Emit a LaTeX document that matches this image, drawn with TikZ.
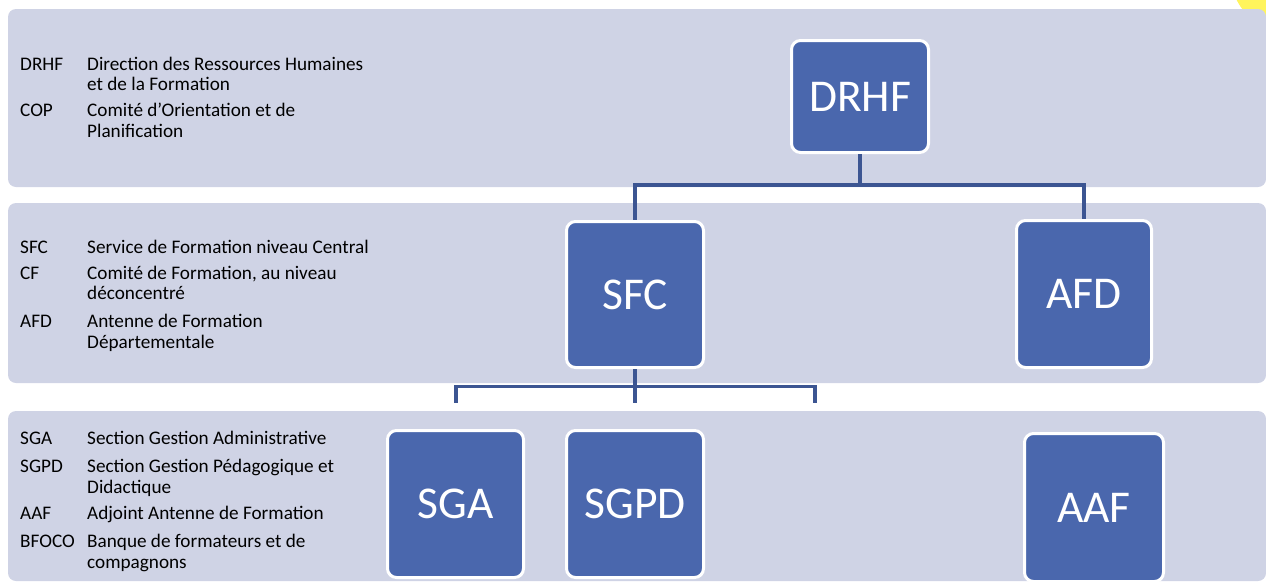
\documentclass[tikz,border=0pt]{standalone}
\usepackage{fontspec}
\setmainfont{Carlito}
\definecolor{bandfill}{HTML}{CFD3E5}
\definecolor{boxblue}{HTML}{4A67AD}
\definecolor{linkblue}{HTML}{3C5592}
\definecolor{sun}{HTML}{FFF45C}

\begin{document}
\begin{tikzpicture}[x=1pt,y=-1pt,
  bandbox/.style={fill=bandfill, rounded corners=8pt},
  unit/.style={draw=white, line width=3pt, fill=boxblue, rounded corners=9pt,
    text=white, font=\fontsize{45.5}{46}\selectfont, inner sep=0pt},
  abbr/.style={anchor=base west, font=\fontsize{19.2}{21}\selectfont, inner sep=0pt},
  link/.style={draw=linkblue, line width=3.4pt}]
\useasboundingbox (0,0) rectangle (1266,584);

% corner mark behind the bands
\fill[sun] (1292,-28) circle (62);

% the three level bands
\fill[bandbox] (8,9) rectangle (1266,187);
\fill[bandbox] (8,203) rectangle (1266,383);
\fill[bandbox] (8,411) rectangle (1266,581);

% legend, level 1
\node[abbr] (k-drhf) at (20,70) {DRHF};
\node[abbr] (v-drhf) at (87,70) {Direction des Ressources Humaines};
\node[abbr] (v-drhf2) at (87,90.5) {et de la Formation};
\node[abbr] (k-cop) at (20,116.5) {COP};
\node[abbr] (v-cop) at (87,116.5) {Comité d’Orientation et de};
\node[abbr] (v-cop2) at (87,137) {Planification};

% legend, level 2
\node[abbr] (k-sfc) at (20,253) {SFC};
\node[abbr] (v-sfc) at (87,253) {Service de Formation niveau Central};
\node[abbr] (k-cf) at (20,279) {CF};
\node[abbr] (v-cf) at (87,279) {Comité de Formation, au niveau};
\node[abbr] (v-cf2) at (87,299.5) {déconcentré};
\node[abbr] (k-afd) at (20,327.5) {AFD};
\node[abbr] (v-afd) at (87,327.5) {Antenne de Formation};
\node[abbr] (v-afd2) at (87,348) {Départementale};

% legend, level 3
\node[abbr] (k-sga) at (20,444.5) {SGA};
\node[abbr] (v-sga) at (87,444.5) {Section Gestion Administrative};
\node[abbr] (k-sgpd) at (20,472.5) {SGPD};
\node[abbr] (v-sgpd) at (87,472.5) {Section Gestion Pédagogique et};
\node[abbr] (v-sgpd2) at (87,493) {Didactique};
\node[abbr] (k-aaf) at (20,519.5) {AAF};
\node[abbr] (v-aaf) at (87,519.5) {Adjoint Antenne de Formation};
\node[abbr] (k-bfoco) at (20,547.5) {BFOCO};
\node[abbr] (v-bfoco) at (87,547.5) {Banque de formateurs et de};
\node[abbr] (v-bfoco2) at (87,568) {compagnons};

% organisation units
\node[unit, minimum width=137pt, minimum height=112pt] (DRHF) at (860,96.5) {DRHF};
\node[unit, minimum width=137pt, minimum height=146pt] (SFC) at (635,294.5) {SFC};
\node[unit, minimum width=135pt, minimum height=147pt] (AFD) at (1084,294) {AFD};
\node[unit, minimum width=136pt, minimum height=147pt] (SGA) at (455.5,504) {SGA};
\node[unit, minimum width=137pt, minimum height=147pt] (SGPD) at (635,504) {SGPD};
\node[unit, minimum width=139pt, minimum height=148pt] (AAF) at (1094,507.5) {AAF};

% open ends of the lower bus
\coordinate (dropA) at (456,403);
\coordinate (dropB) at (635,403);
\coordinate (dropC) at (815,403);

% connectors
\draw[link] (DRHF.south) -- ++(0,31) -| (SFC.north);
\draw[link] (DRHF.south) -- ++(0,31) -| (AFD.north);
\draw[link] (SFC.south) -- ++(0,17.5) -| (dropA);
\draw[link] (SFC.south) -- ++(0,17.5) -| (dropC);
\draw[link] (SFC.south) -- (dropB);
\end{tikzpicture}
\end{document}
